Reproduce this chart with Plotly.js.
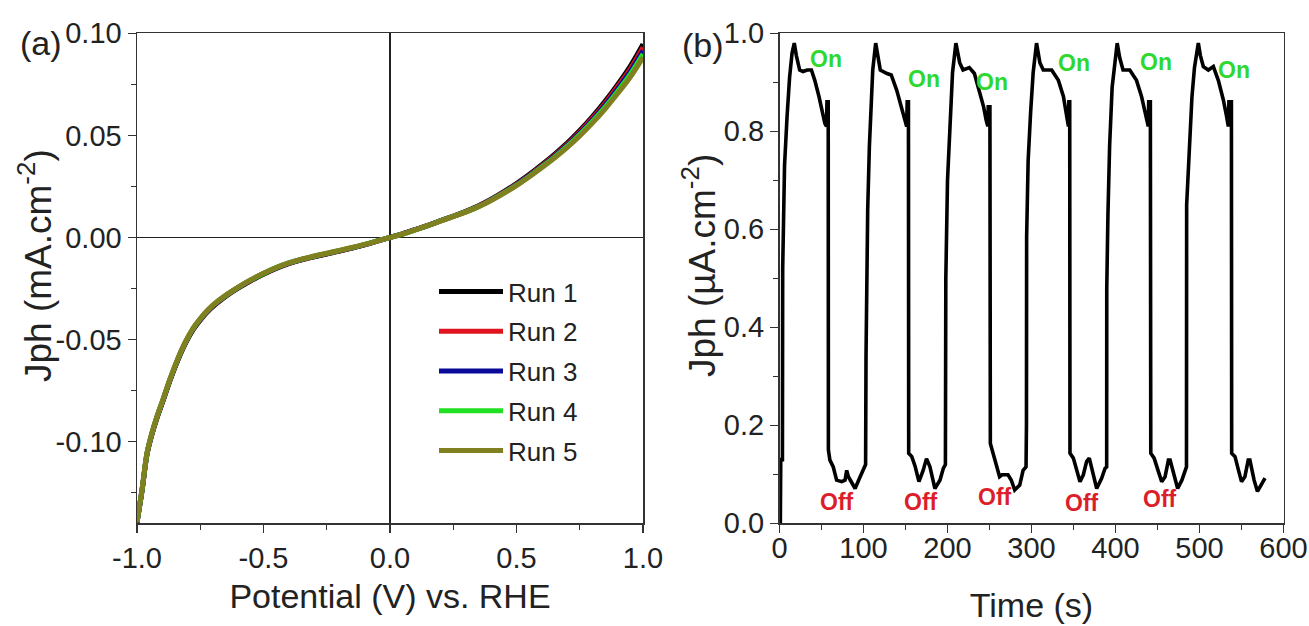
<!DOCTYPE html>
<html>
<head>
<meta charset="utf-8">
<script src="https://cdn.plot.ly/plotly-3.0.1.min.js"></script>
<style>
  html, body { margin: 0; padding: 0; background: #fff; }
  #chart { width: 1309px; height: 626px; }
</style>
</head>
<body>
<div id="chart"></div>
<script>
// ---- Panel (a): J-V sweeps, five repeated runs ----
const potential = [-1.00, -0.98, -0.96, -0.94, -0.92, -0.90, -0.87, -0.84, -0.81, -0.78,
  -0.75, -0.72, -0.68, -0.64, -0.60, -0.55, -0.50, -0.45, -0.40, -0.35,
  -0.30, -0.25, -0.20, -0.15, -0.10, -0.05, 0.00, 0.05, 0.10, 0.15,
  0.20, 0.25, 0.30, 0.35, 0.40, 0.45, 0.50, 0.55, 0.60, 0.65,
  0.70, 0.75, 0.80, 0.85, 0.90, 0.95, 1.00];

const run1 = [-0.1396, -0.1240, -0.1060, -0.0960, -0.0880, -0.0810, -0.0702, -0.0605, -0.0522, -0.0455,
  -0.0405, -0.0362, -0.0318, -0.0280, -0.0248, -0.0212, -0.0180, -0.0152, -0.0128, -0.0110,
  -0.0095, -0.0081, -0.0067, -0.0052, -0.0036, -0.0018, 0.0000, 0.0018, 0.0038, 0.0059,
  0.0082, 0.0104, 0.0128, 0.0155, 0.0187, 0.0224, 0.0264, 0.0308, 0.0356, 0.0407,
  0.0462, 0.0524, 0.0592, 0.0667, 0.0750, 0.0840, 0.0947];
const run2 = [-0.1395, -0.1238, -0.1058, -0.0958, -0.0878, -0.0808, -0.0700, -0.0603, -0.0520, -0.0453,
  -0.0403, -0.0360, -0.0316, -0.0278, -0.0246, -0.0210, -0.0178, -0.0150, -0.0127, -0.0109,
  -0.0094, -0.0080, -0.0066, -0.0051, -0.0035, -0.0018, 0.0000, 0.0018, 0.0038, 0.0059,
  0.0082, 0.0104, 0.0127, 0.0154, 0.0185, 0.0222, 0.0261, 0.0305, 0.0352, 0.0402,
  0.0456, 0.0517, 0.0584, 0.0657, 0.0739, 0.0826, 0.0931];
const run3 = [-0.1394, -0.1236, -0.1056, -0.0956, -0.0876, -0.0806, -0.0698, -0.0601, -0.0518, -0.0451,
  -0.0401, -0.0358, -0.0314, -0.0277, -0.0245, -0.0209, -0.0177, -0.0149, -0.0126, -0.0108,
  -0.0093, -0.0079, -0.0065, -0.0051, -0.0035, -0.0017, 0.0000, 0.0018, 0.0038, 0.0058,
  0.0081, 0.0103, 0.0126, 0.0152, 0.0184, 0.0220, 0.0259, 0.0302, 0.0348, 0.0398,
  0.0451, 0.0510, 0.0576, 0.0648, 0.0728, 0.0813, 0.0914];
const run4 = [-0.1393, -0.1234, -0.1054, -0.0954, -0.0874, -0.0804, -0.0696, -0.0599, -0.0516, -0.0449,
  -0.0399, -0.0356, -0.0312, -0.0276, -0.0244, -0.0208, -0.0176, -0.0148, -0.0125, -0.0107,
  -0.0092, -0.0078, -0.0064, -0.0050, -0.0034, -0.0017, 0.0000, 0.0017, 0.0037, 0.0058,
  0.0081, 0.0103, 0.0125, 0.0151, 0.0183, 0.0218, 0.0256, 0.0299, 0.0345, 0.0393,
  0.0446, 0.0504, 0.0568, 0.0638, 0.0716, 0.0800, 0.0898];
const run5 = [-0.1392, -0.1232, -0.1052, -0.0952, -0.0872, -0.0802, -0.0694, -0.0597, -0.0514, -0.0447,
  -0.0397, -0.0354, -0.0310, -0.0275, -0.0243, -0.0207, -0.0175, -0.0147, -0.0124, -0.0106,
  -0.0091, -0.0077, -0.0063, -0.0049, -0.0034, -0.0017, 0.0000, 0.0017, 0.0037, 0.0058,
  0.0080, 0.0102, 0.0124, 0.0150, 0.0181, 0.0216, 0.0254, 0.0296, 0.0341, 0.0389,
  0.0440, 0.0497, 0.0560, 0.0629, 0.0705, 0.0786, 0.0882];

const runNames = ["Run 1", "Run 2", "Run 3", "Run 4", "Run 5"];
const runColors = ["#000000", "#e0141e", "#0a0a9a", "#22e022", "#808020"];

const jvTicks = [-0.10, -0.05, 0.00, 0.05, 0.10];
const jvTickText = ["-0.10", "-0.05", "0.00", "0.05", "0.10"];
const jvMinor = [-0.125, -0.075, -0.025, 0.025, 0.075];
const vTicks = [-1.0, -0.5, 0.0, 0.5, 1.0];
const vTickText = ["-1.0", "-0.5", "0.0", "0.5", "1.0"];
const vMinor = [-0.75, -0.25, 0.25, 0.75];

// ---- Panel (b): chopped-light transient photocurrent ----
const time = [0, 1, 1.5, 3.5, 3.8, 6, 9, 12, 15, 17.6,
  20, 24, 28, 33, 38, 42, 47, 51, 54, 56, 56.5, 58, 58.2,
  60, 64, 68, 74, 78, 80, 82, 84, 90, 96, 100.5, 102.5,
  103, 103.5, 105, 107, 109, 111, 114.5,
  117, 120, 128, 133, 139.5, 145, 149, 151.4, 152, 153.5, 153.8,
  157.5, 161.5, 166, 171, 175, 179, 185, 191, 195, 197.5,
  198, 200, 203, 206, 210,
  214.5, 218.5, 226, 232, 238, 243, 246, 248, 248.5, 250.5, 251,
  254, 259, 262, 265, 272, 276, 280, 286, 290, 293.5,
  294, 294.2, 296, 299, 302, 306,
  310, 314, 324, 332, 338, 342, 344, 344.5, 345.5, 345.8,
  349.8, 353.8, 357.7, 361.7, 365.6, 368.8, 373.6, 377.6, 383.5, 387.5, 389.5,
  389.6, 391, 393, 396, 402,
  405, 409, 417, 425, 431, 437, 439, 439.5, 441.5, 442,
  446, 451, 455, 459, 463, 465, 470, 474, 479, 483, 484.5,
  484.7, 488, 491, 494, 498.6,
  501, 504.6, 510.5, 516.5, 522.4, 528.4, 532.3, 534.3, 535, 538, 538.3,
  542.3, 546.3, 550, 554, 558, 560, 565, 569, 574, 578];
const photocurrent = [0.00, 0.00, 0.13, 0.13, 0.52, 0.73, 0.83, 0.91, 0.96, 0.98,
  0.955, 0.925, 0.922, 0.925, 0.925, 0.904, 0.871, 0.837, 0.816, 0.81, 0.86, 0.86, 0.15,
  0.129, 0.115, 0.088, 0.085, 0.088, 0.108, 0.095, 0.088, 0.071, 0.095, 0.115, 0.12,
  0.343, 0.50, 0.64, 0.769, 0.85, 0.925, 0.98,
  0.95, 0.925, 0.918, 0.915, 0.884, 0.85, 0.83, 0.81, 0.86, 0.86, 0.143,
  0.136, 0.116, 0.085, 0.108, 0.132, 0.116, 0.071, 0.088, 0.112, 0.12,
  0.50, 0.70, 0.83, 0.92, 0.98,
  0.94, 0.925, 0.93, 0.918, 0.884, 0.85, 0.823, 0.81, 0.85, 0.85, 0.163,
  0.143, 0.116, 0.095, 0.099, 0.099, 0.088, 0.068, 0.078, 0.108, 0.115,
  0.20, 0.585, 0.74, 0.84, 0.92, 0.98,
  0.94, 0.925, 0.925, 0.904, 0.871, 0.83, 0.81, 0.86, 0.86, 0.143,
  0.133, 0.109, 0.085, 0.099, 0.126, 0.133, 0.095, 0.071, 0.092, 0.112, 0.115,
  0.48, 0.63, 0.77, 0.89, 0.98,
  0.95, 0.925, 0.925, 0.904, 0.871, 0.823, 0.81, 0.86, 0.86, 0.143,
  0.133, 0.106, 0.085, 0.095, 0.129, 0.129, 0.095, 0.071, 0.088, 0.112, 0.115,
  0.65, 0.78, 0.87, 0.93, 0.98,
  0.955, 0.932, 0.925, 0.932, 0.904, 0.864, 0.83, 0.81, 0.86, 0.86, 0.143,
  0.136, 0.109, 0.085, 0.095, 0.129, 0.129, 0.088, 0.065, 0.082, 0.092];

// Light-state labels along the transient
const onTime = [55.4, 172, 253, 350.6, 448, 541];
const onLevel = [0.948, 0.907, 0.900, 0.940, 0.942, 0.925];
const offTime = [69, 168.8, 256.8, 360.7, 453.5];
const offLevel = [0.044, 0.044, 0.053, 0.041, 0.049];

const tTicks = [0, 100, 200, 300, 400, 500, 600];
const tMinor = [50, 150, 250, 350, 450, 550];
const iTicks = [0.0, 0.2, 0.4, 0.6, 0.8, 1.0];
const iTickText = ["0.0", "0.2", "0.4", "0.6", "0.8", "1.0"];
const iMinor = [0.1, 0.3, 0.5, 0.7, 0.9];

// ---- Traces ----
const runData = [run1, run2, run3, run4, run5];
const traces = runData.map((vals, i) => ({
  type: "scatter", mode: "lines",
  x: potential, y: vals,
  name: runNames[i], legendgroup: "g" + i,
  line: { color: runColors[i], width: 5, shape: "spline" },
  xaxis: "x", yaxis: "y"
}));
traces.push({
  type: "scatter", mode: "lines",
  x: time, y: photocurrent,
  showlegend: false,
  line: { color: "#000000", width: 3.6 },
  xaxis: "x2", yaxis: "y2"
});

const FONT = "Liberation Sans, Arial, Helvetica, sans-serif";
const axisBase = {
  showline: true, linecolor: "#333", linewidth: 1.5, mirror: true,
  ticks: "outside", ticklen: 8, tickwidth: 1.5, tickcolor: "#333",
  showgrid: false, fixedrange: true,
  tickfont: { family: FONT, size: 29, color: "#222" }
};
const titleFont = { family: FONT, size: 34, color: "#222" };

const annotations = [
  { text: "(a)", xref: "paper", yref: "paper", x: 18 / 1309, y: 1 - 43 / 626,
    xanchor: "left", yanchor: "middle", showarrow: false,
    font: { family: FONT, size: 34, color: "#222" } },
  { text: "(b)", xref: "paper", yref: "paper", x: 680 / 1309, y: 1 - 45 / 626,
    xanchor: "left", yanchor: "middle", showarrow: false,
    font: { family: FONT, size: 34, color: "#222" } },
  // vertical axis titles
  { text: "Jph (mA.cm<sup>-2</sup>)", xref: "paper", yref: "paper",
    x: 35 / 1309, y: 1 - 266 / 626, xanchor: "center", yanchor: "middle",
    textangle: -90, showarrow: false,
    font: { family: FONT, size: 37, color: "#222" } },
  { text: "Jph (µA.cm<sup>-2</sup>)", xref: "paper", yref: "paper",
    x: 699 / 1309, y: 1 - 266 / 626, xanchor: "center", yanchor: "middle",
    textangle: -90, showarrow: false,
    font: { family: FONT, size: 37, color: "#222" } }
];
onTime.forEach((t, i) => annotations.push({
  text: "<b>On</b>", xref: "x2", yref: "y2", x: t, y: onLevel[i],
  showarrow: false, font: { family: FONT, size: 23, color: "#2fd82f" }
}));
offTime.forEach((t, i) => annotations.push({
  text: "<b>Off</b>", xref: "x2", yref: "y2", x: t, y: offLevel[i],
  showarrow: false, font: { family: FONT, size: 23, color: "#dc1e2a" }
}));

const yDomain = [1 - 523.3 / 626, 1 - 33.3 / 626];

const layout = {
  width: 1309, height: 626,
  margin: { l: 0, r: 0, t: 0, b: 0 },
  paper_bgcolor: "#ffffff", plot_bgcolor: "#ffffff",
  font: { family: FONT, color: "#222" },
  showlegend: true,
  legend: {
    x: 434 / 1309, y: 1 - 268 / 626, xanchor: "left", yanchor: "top",
    bgcolor: "rgba(0,0,0,0)", borderwidth: 0,
    font: { family: FONT, size: 26, color: "#222" },
    itemwidth: 64, tracegroupgap: 3, traceorder: "grouped"
  },
  xaxis: Object.assign({}, axisBase, {
    domain: [137 / 1309, 643 / 1309], range: [-1, 1], anchor: "y",
    tickmode: "array", tickvals: vTicks, ticktext: vTickText,
    minor: { tickmode: "array", tickvals: vMinor, ticks: "outside", ticklen: 5, tickwidth: 1.2, tickcolor: "#333" },
    zeroline: true, zerolinecolor: "#222", zerolinewidth: 1.2,
    ticklabelstandoff: 0,
    title: { text: "Potential (V) vs. RHE", font: titleFont, standoff: 11 }
  }),
  yaxis: Object.assign({}, axisBase, {
    domain: yDomain, range: [-0.14, 0.10], anchor: "x",
    tickmode: "array", tickvals: jvTicks, ticktext: jvTickText,
    minor: { tickmode: "array", tickvals: jvMinor, ticks: "outside", ticklen: 5, tickwidth: 1.2, tickcolor: "#333" },
    zeroline: true, zerolinecolor: "#222", zerolinewidth: 1.2
  }),
  xaxis2: Object.assign({}, axisBase, {
    domain: [779.5 / 1309, 1283.5 / 1309], range: [0, 600], anchor: "y2",
    tickmode: "array", tickvals: tTicks,
    minor: { tickmode: "array", tickvals: tMinor, ticks: "outside", ticklen: 5, tickwidth: 1.2, tickcolor: "#333" },
    zeroline: false,
    ticklabelstandoff: -10,
    title: { text: "Time (s)", font: titleFont, standoff: 30 }
  }),
  yaxis2: Object.assign({}, axisBase, {
    domain: yDomain, range: [0, 1.0], anchor: "x2",
    tickmode: "array", tickvals: iTicks, ticktext: iTickText,
    minor: { tickmode: "array", tickvals: iMinor, ticks: "outside", ticklen: 5, tickwidth: 1.2, tickcolor: "#333" },
    zeroline: false
  }),
  annotations: annotations
};

Plotly.newPlot("chart", traces, layout, { displayModeBar: false, staticPlot: true });
</script>
</body>
</html>
